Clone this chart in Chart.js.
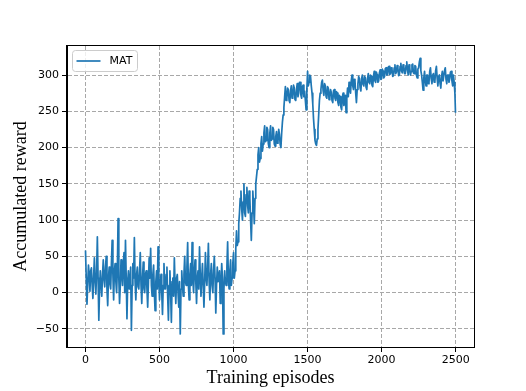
<!DOCTYPE html>
<html>
<head>
<meta charset="utf-8">
<script src="https://cdn.jsdelivr.net/npm/chart.js@4.4.1/dist/chart.umd.min.js"></script>
<style>
  body { margin: 0; background: #fff; }
  #wrap { width: 526px; height: 391px; }
</style>
</head>
<body>
<div id="wrap"><canvas id="mycanvas" width="526" height="391"></canvas></div>
<script>
// episode numbers (x)
var episodes = [
    0, 5, 10, 15, 20, 25, 30, 35, 40, 45, 50, 55, 60, 65, 70, 75, 80, 85, 90, 95,
    100, 105, 110, 115, 120, 125, 130, 135, 140, 145, 150, 155, 160, 165, 170, 175, 180, 185, 190, 195,
    200, 205, 210, 215, 220, 225, 230, 235, 240, 245, 250, 255, 260, 265, 270, 275, 280, 285, 290, 295,
    300, 305, 310, 315, 320, 325, 330, 335, 340, 345, 350, 355, 360, 365, 370, 375, 380, 385, 390, 395,
    400, 405, 410, 415, 420, 425, 430, 435, 440, 445, 450, 455, 460, 465, 470, 475, 480, 485, 490, 495,
    500, 505, 510, 515, 520, 525, 530, 535, 540, 545, 550, 555, 560, 565, 570, 575, 580, 585, 590, 595,
    600, 605, 610, 615, 620, 625, 630, 635, 640, 645, 650, 655, 660, 665, 670, 675, 680, 685, 690, 695,
    700, 705, 710, 715, 720, 725, 730, 735, 740, 745, 750, 755, 760, 765, 770, 775, 780, 785, 790, 795,
    800, 805, 810, 815, 820, 825, 830, 835, 840, 845, 850, 855, 860, 865, 870, 875, 880, 885, 890, 895,
    900, 905, 910, 915, 920, 925, 930, 935, 940, 945, 950, 955, 960, 965, 970, 975, 980, 985, 990, 995,
    1000, 1005, 1010, 1015, 1020, 1025, 1030, 1035, 1040, 1045, 1050, 1055, 1060, 1065, 1070, 1075, 1080, 1085, 1090, 1095,
    1100, 1105, 1110, 1115, 1120, 1125, 1130, 1135, 1140, 1145, 1150, 1155, 1160, 1165, 1170, 1175, 1180, 1185, 1190, 1195,
    1200, 1205, 1210, 1215, 1220, 1225, 1230, 1235, 1240, 1245, 1250, 1255, 1260, 1265, 1270, 1275, 1280, 1285, 1290, 1295,
    1300, 1305, 1310, 1315, 1320, 1325, 1330, 1335, 1340, 1345, 1350, 1355, 1360, 1365, 1370, 1375, 1380, 1385, 1390, 1395,
    1400, 1405, 1410, 1415, 1420, 1425, 1430, 1435, 1440, 1445, 1450, 1455, 1460, 1465, 1470, 1475, 1480, 1485, 1490, 1495,
    1500, 1505, 1510, 1515, 1520, 1525, 1530, 1535, 1540, 1545, 1550, 1555, 1560, 1565, 1570, 1575, 1580, 1585, 1590, 1595,
    1600, 1605, 1610, 1615, 1620, 1625, 1630, 1635, 1640, 1645, 1650, 1655, 1660, 1665, 1670, 1675, 1680, 1685, 1690, 1695,
    1700, 1705, 1710, 1715, 1720, 1725, 1730, 1735, 1740, 1745, 1750, 1755, 1760, 1765, 1770, 1775, 1780, 1785, 1790, 1795,
    1800, 1805, 1810, 1815, 1820, 1825, 1830, 1835, 1840, 1845, 1850, 1855, 1860, 1865, 1870, 1875, 1880, 1885, 1890, 1895,
    1900, 1905, 1910, 1915, 1920, 1925, 1930, 1935, 1940, 1945, 1950, 1955, 1960, 1965, 1970, 1975, 1980, 1985, 1990, 1995,
    2000, 2005, 2010, 2015, 2020, 2025, 2030, 2035, 2040, 2045, 2050, 2055, 2060, 2065, 2070, 2075, 2080, 2085, 2090, 2095,
    2100, 2105, 2110, 2115, 2120, 2125, 2130, 2135, 2140, 2145, 2150, 2155, 2160, 2165, 2170, 2175, 2180, 2185, 2190, 2195,
    2200, 2205, 2210, 2215, 2220, 2225, 2230, 2235, 2240, 2245, 2250, 2255, 2260, 2265, 2270, 2275, 2280, 2285, 2290, 2295,
    2300, 2305, 2310, 2315, 2320, 2325, 2330, 2335, 2340, 2345, 2350, 2355, 2360, 2365, 2370, 2375, 2380, 2385, 2390, 2395,
    2400, 2405, 2410, 2415, 2420, 2425, 2430, 2435, 2440, 2445, 2450, 2455, 2460, 2465, 2470, 2475, 2480, 2485, 2490, 2495,
    2499
];

// MAT accumulated reward, one value per episode above
var mat_reward = [
    58, 20, -16, 12, 38, 25, 2, 30, 34, 10, -8, 22, 48, 15, -2, 28, 77, 20, -38, 5,
    30, 10, -5, 25, 45, 18, 8, 35, 50, 5, -18, 20, 35, 12, 5, 40, 72, 25, -10, 30,
    40, 15, 0, 30, 102, 20, -15, 10, 45, 25, 10, 38, 55, 0, 72, 20, -36, 15, 30, 5,
    15, 35, -52, 10, 40, 20, 76, 15, -10, 25, 35, 8, 5, 30, 55, 10, -15, 20, 42, 5,
    0, 25, 30, 5, -20, 15, 48, 20, 61, 10, -5, 25, 38, 0, -25, 15, 30, 5, 63, 20,
    -10, 15, 25, 0, -30, 10, 40, 5, 5, 25, 35, -5, -38, 10, 30, 0, -41, 15, 20, -5,
    48, 10, -15, 20, 25, 0, -20, 15, -57, 5, 30, 10, -5, 25, 50, 15, 10, 35, 69, 10,
    -10, 25, 40, 10, 69, 20, 0, 30, 45, 15, -15, 20, 30, 5, 63, 25, -5, 20, 40, 10,
    -20, 15, 55, 20, 10, 35, 68, 15, -10, 25, 40, 10, 0, 30, 50, 20, -28, 10, 35, 15,
    15, 30, -15, 10, 40, 20, -57, 5, 30, 15, 10, 35, 70, 20, 5, 30, 45, 10, 20, 40,
    55, 20, 30, 60, 85, 65, 70, 95, 110, 130, 140, 115, 100, 125, 150, 110, 105, 135, 145, 120,
    110, 140, 130, 100, 72, 110, 140, 120, 95, 130, 150, 160, 170, 190, 200, 180, 185, 205, 215, 195,
    205, 220, 230, 208, 210, 228, 225, 205, 200, 220, 230, 210, 212, 228, 225, 205, 202, 215, 222, 206,
    208, 225, 218, 204, 200, 220, 235, 245, 255, 270, 284, 265, 268, 282, 280, 265, 262, 278, 285, 268,
    270, 286, 282, 266, 265, 280, 288, 270, 275, 290, 290, 272, 268, 284, 286, 270, 278, 265, 252, 280,
    305, 285, 290, 300, 298, 285, 275, 260, 240, 225, 210, 205, 203, 212, 225, 245, 265, 275, 280, 290,
    293, 278, 272, 288, 285, 270, 268, 284, 282, 266, 270, 280, 276, 265, 262, 278, 280, 268, 265, 277,
    275, 262, 258, 272, 270, 256, 252, 270, 275, 258, 262, 272, 248, 268, 282, 270, 290, 280, 275, 292,
    300, 285, 280, 294, 292, 275, 262, 280, 288, 298, 295, 282, 278, 295, 300, 287, 285, 298, 296, 283,
    280, 295, 302, 290, 288, 300, 298, 286, 284, 298, 305, 292, 290, 304, 300, 290, 292, 303, 307, 294,
    295, 308, 305, 296, 298, 309, 310, 300, 300, 311, 312, 301, 302, 310, 308, 298, 299, 310, 314, 302,
    304, 313, 310, 299, 300, 312, 316, 305, 303, 314, 312, 302, 302, 313, 318, 306, 300, 314, 310, 300,
    305, 314, 315, 303, 302, 313, 312, 300, 296, 308, 310, 318, 323, 306, 300, 290, 279, 296, 305, 292,
    285, 300, 300, 288, 290, 305, 310, 295, 288, 300, 302, 290, 292, 306, 312, 296, 285, 298, 300, 288,
    282, 298, 305, 292, 292, 306, 310, 294, 288, 300, 300, 290, 295, 304, 305, 292, 285, 300, 290, 275,
    248
];

var x_ticks = [0, 500, 1000, 1500, 2000, 2500];
var y_ticks = [-50, 0, 50, 100, 150, 200, 250, 300];

var points = [];
for (var i in episodes) {
    points.push({x: episodes[i], y: mat_reward[i]});
}

// box round the plot + legend in the top left corner
var framePlugin = {
    id: 'frame',
    afterDraw: function(chart) {
        var ctx = chart.ctx;
        var ca = chart.chartArea;
        ctx.save();
        ctx.strokeStyle = "#000";
        ctx.lineWidth = 1;
        ctx.strokeRect(ca.left - 0.5, ca.top - 0.5, ca.right - ca.left + 1, ca.bottom - ca.top + 1);

        var ds = chart.data.datasets[0];
        var bx = ca.left + 5.5, by = ca.top + 4.5, bw = 65, bh = 21;
        ctx.beginPath();
        ctx.roundRect(bx, by, bw, bh, 3);
        ctx.fillStyle = "rgba(255,255,255,0.8)";
        ctx.fill();
        ctx.strokeStyle = "#cccccc";
        ctx.stroke();

        ctx.beginPath();
        ctx.moveTo(bx + 4, by + 10.5);
        ctx.lineTo(bx + 28, by + 10.5);
        ctx.strokeStyle = ds.borderColor;
        ctx.lineWidth = ds.borderWidth;
        ctx.stroke();

        ctx.fillStyle = "#000";
        ctx.font = "11px 'DejaVu Sans'";
        ctx.textBaseline = "middle";
        ctx.textAlign = "left";
        ctx.fillText(ds.label, bx + 37, by + 11);
        ctx.restore();
    }
};

var tickFont = {family: "'DejaVu Sans'", size: 11};
var titleFont = {family: "'Liberation Serif', 'Times New Roman', serif", size: 18};

var ctx = document.getElementById("mycanvas");

var LineGraph = new Chart(ctx, {
    type: 'line',
    data: {
        datasets: [{
            label: "MAT",
            data: points,
            fill: false,
            tension: 0,
            borderColor: "#1f77b4",
            backgroundColor: "#1f77b4",
            borderWidth: 1.7,
            borderJoinStyle: 'round',
            pointRadius: 0
        }]
    },
    options: {
        responsive: false,
        animation: false,
        devicePixelRatio: 1,
        layout: { padding: { top: 46, right: 52, left: 0, bottom: 0 } },
        plugins: {
            legend: { display: false },
            tooltip: { enabled: false }
        },
        scales: {
            x: {
                type: 'linear',
                min: -125,
                max: 2624,
                afterBuildTicks: function(scale) {
                    scale.ticks = x_ticks.map(function(v) { return {value: v}; });
                },
                afterFit: function(scale) { scale.height = 44; },
                ticks: {
                    color: "#000", font: tickFont, padding: 2, maxRotation: 0,
                    callback: function(v) { return String(v); }
                },
                grid: { color: "#a8a8a8", lineWidth: 1, tickColor: "#000", tickLength: 5, tickBorderDash: [] },
                border: { display: true, color: "#000", dash: [4, 2] },
                title: {
                    display: true,
                    text: "Training episodes",
                    color: "#000",
                    font: titleFont,
                    padding: { top: 0, bottom: 2 }
                }
            },
            y: {
                type: 'linear',
                min: -75,
                max: 340,
                afterBuildTicks: function(scale) {
                    scale.ticks = y_ticks.map(function(v) { return {value: v}; });
                },
                afterFit: function(scale) { scale.width = 67; },
                ticks: {
                    color: "#000",
                    font: tickFont,
                    padding: 3,
                    callback: function(v) { return String(v).replace('-', '\u2212'); }
                },
                grid: { color: "#a8a8a8", lineWidth: 1, tickColor: "#000", tickLength: 5, tickBorderDash: [] },
                border: { display: true, color: "#000", dash: [4, 2] },
                title: {
                    display: true,
                    text: "Accumulated reward",
                    color: "#000",
                    font: titleFont,
                    padding: { top: 10, bottom: 0 }
                }
            }
        }
    },
    plugins: [framePlugin]
});
</script>
</body>
</html>
